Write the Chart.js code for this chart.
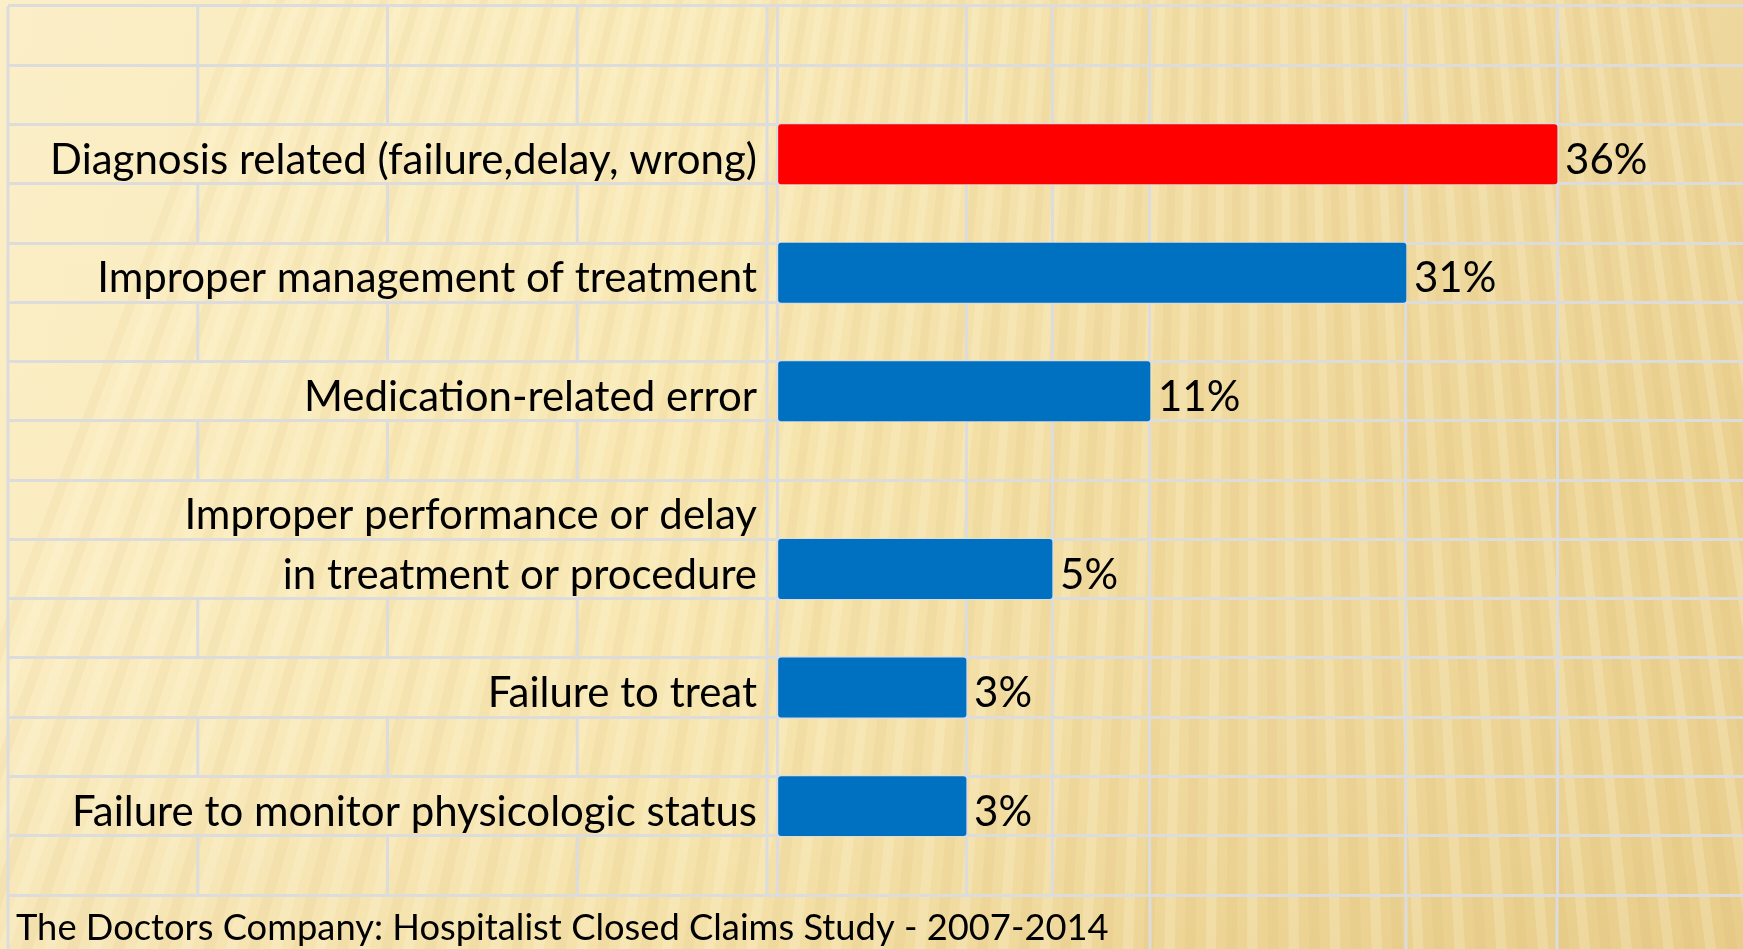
<!DOCTYPE html>
<html>
<head>
<meta charset="utf-8">
<title>Hospitalist Closed Claims</title>
<script src="https://cdn.jsdelivr.net/npm/chart.js@4.4.1/dist/chart.umd.min.js"></script>
<style>
  html, body { margin: 0; padding: 0; background: #f4e0a6; }
  #wrap { width: 1743px; height: 949px; }
</style>
</head>
<body>
<div id="wrap"><canvas id="claims-chart" width="1743" height="949"></canvas></div>
<script>
// ---- data ----
const categories = [
  "Diagnosis related (failure,delay, wrong)",
  "Improper management of treatment",
  "Medication-related error",
  ["Improper performance or delay", "in treatment or procedure"],
  "Failure to treat",
  "Failure to monitor physicologic status",
];
const shares = [36, 31, 11, 5, 3, 3];
const barColors = ["#ff0000", "#0070c0", "#0070c0", "#0070c0", "#0070c0", "#0070c0"];
const footnote = "The Doctors Company: Hospitalist Closed Claims Study - 2007-2014";

// ---- look ----
const FONT = "Lato, Calibri, 'Open Sans', sans-serif";
const GRID = "#dcdcdc";
const LABEL_SIZE = 42;
const NOTE_SIZE = 36.3;
// the source is a table: column edges (fraction of plot width) at each distinct value
const columnEdges = [0, 0.1957, 0.2847, 0.3861, 0.6511, 0.8075];

// one table row per label line, bar sits on the last line, blank row after each item
const rowLabels = ["", ""];
const rowValues = [null, null];
const rowColors = ["#0070c0", "#0070c0"];
categories.forEach((label, i) => {
  const lines = Array.isArray(label) ? label : [label];
  lines.forEach((line, j) => {
    rowLabels.push(line);
    rowValues.push(j === lines.length - 1 ? shares[i] : null);
    rowColors.push(barColors[i]);
  });
  rowLabels.push("");
  rowValues.push(null);
  rowColors.push("#0070c0");
});

const stops = [0, ...Array.from(new Set(shares)).sort((a, b) => a - b)];

// x scale that maps values onto the table's column edges
class TableColumnScale extends Chart.LinearScale {
  buildTicks() {
    return this.options.stops.map((value) => ({ value }));
  }
  getPixelForValue(value) {
    const { stops, edges } = this.options;
    let i = 1;
    while (i < stops.length - 1 && value > stops[i]) i++;
    const t = (value - stops[i - 1]) / (stops[i] - stops[i - 1]);
    return this.left + (edges[i - 1] + t * (edges[i] - edges[i - 1])) * this.width;
  }
  getValueForPixel(pixel) {
    const { stops, edges } = this.options;
    const f = (pixel - this.left) / this.width;
    let i = 1;
    while (i < edges.length - 1 && f > edges[i]) i++;
    const t = (f - edges[i - 1]) / (edges[i] - edges[i - 1]);
    return stops[i - 1] + t * (stops[i] - stops[i - 1]);
  }
}
TableColumnScale.id = "tableColumns";
TableColumnScale.defaults = {};
Chart.register(TableColumnScale);

// golden striped slide background
const backgroundPlugin = {
  id: "slideBackground",
  beforeDraw(chart) {
    const { ctx, width: w, height: h } = chart;
    ctx.save();
    const g = ctx.createLinearGradient(0, 0, w, 0);
    g.addColorStop(0, "#fbedc2");
    g.addColorStop(0.4, "#f8e7b1");
    g.addColorStop(0.7, "#f0d99c");
    g.addColorStop(1, "#ebd190");
    ctx.fillStyle = g;
    ctx.fillRect(0, 0, w, h);
    const shade = ctx.createLinearGradient(0, 0, 0, h);
    shade.addColorStop(0, "rgba(255,250,230,0.15)");
    shade.addColorStop(0.5, "rgba(255,255,255,0)");
    shade.addColorStop(1, "rgba(205,165,80,0.10)");
    ctx.fillStyle = shade;
    ctx.fillRect(0, 0, w, h);

    // fan of soft stripes converging above the slide
    const fx = w * 0.72, fy = -h * 2.8;
    const R = h * 6;
    const a0 = Math.atan2(-120 - fx, h - fy);
    const a1 = Math.atan2(w + 120 - fx, h - fy);
    const step = 18 / (h * 0.5 - fy);
    let k = 0;
    for (let a = a0; a < a1; a += step, k++) {
      ctx.beginPath();
      ctx.moveTo(fx, fy);
      ctx.lineTo(fx + R * Math.sin(a), fy + R * Math.cos(a));
      ctx.lineTo(fx + R * Math.sin(a + step * 0.5), fy + R * Math.cos(a + step * 0.5));
      ctx.closePath();
      ctx.fillStyle = k % 2 ? "rgba(255,250,225,0.22)" : "rgba(200,160,70,0.07)";
      ctx.fill();
    }
    ctx.restore();
  },
};

// table lines the scales do not draw: label column dividers and footer row
const tablePlugin = {
  id: "tableLines",
  beforeDatasetsDraw(chart) {
    const { ctx, chartArea, scales } = chart;
    const y = scales.y;
    const x = scales.x;
    const colLeft = 8;
    const colRight = chartArea.left - 10;
    ctx.save();
    ctx.strokeStyle = GRID;
    ctx.lineWidth = 3;
    ctx.beginPath();
    ctx.moveTo(colLeft, chartArea.top);
    ctx.lineTo(colLeft, chart.height);
    ctx.moveTo(colRight, chartArea.top);
    ctx.lineTo(colRight, chartArea.bottom);
    const rowH = (chartArea.bottom - chartArea.top) / rowLabels.length;
    rowLabels.forEach((label, r) => {
      if (label) return;
      const yc = y.getPixelForTick(r);
      for (let c = 1; c < 4; c++) {
        const xc = colLeft + ((colRight - colLeft) * c) / 4;
        ctx.moveTo(xc, yc - rowH / 2);
        ctx.lineTo(xc, yc + rowH / 2);
      }
    });
    // column lines that continue past the footnote cell
    ctx.font = `${NOTE_SIZE}px ${FONT}`;
    const noteEnd = 16 + ctx.measureText(footnote).width;
    x.ticks.forEach((t, i) => {
      const px = x.getPixelForTick(i);
      if (px > noteEnd) {
        ctx.moveTo(px, chartArea.bottom);
        ctx.lineTo(px, chart.height);
      }
    });
    ctx.stroke();
    ctx.restore();
  },
};

// percentage labels at the bar ends
const valueLabelPlugin = {
  id: "valueLabels",
  afterDatasetsDraw(chart) {
    const { ctx } = chart;
    const meta = chart.getDatasetMeta(0);
    ctx.save();
    ctx.font = `${LABEL_SIZE}px ${FONT}`;
    ctx.fillStyle = "#000";
    ctx.textAlign = "left";
    ctx.textBaseline = "middle";
    meta.data.forEach((bar, i) => {
      const v = rowValues[i];
      if (v == null) return;
      ctx.fillText(`${v}%`, bar.x + 8, bar.y + 6);
    });
    ctx.restore();
  },
};

const ctx = document.getElementById("claims-chart").getContext("2d");
const chart = new Chart(ctx, {
  type: "bar",
  data: {
    labels: rowLabels,
    datasets: [
      {
        data: rowValues,
        backgroundColor: rowColors,
        categoryPercentage: 1,
        barPercentage: 1,
        borderRadius: 3,
        borderSkipped: false,
      },
    ],
  },
  options: {
    indexAxis: "y",
    responsive: false,
    animation: false,
    layout: { padding: { left: 16, top: 6, right: 0, bottom: 0 } },
    plugins: {
      legend: { display: false },
      tooltip: { enabled: false },
      title: {
        display: true,
        position: "bottom",
        align: "start",
        text: footnote,
        color: "#000",
        font: { family: FONT, size: NOTE_SIZE, weight: "normal", lineHeight: 1.0 },
        padding: { top: 15, bottom: 2.7 },
      },
    },
    scales: {
      x: {
        type: "tableColumns",
        stops: stops,
        edges: columnEdges,
        min: 0,
        max: 36,
        ticks: { display: false },
        border: { display: false },
        grid: { color: GRID, lineWidth: 3, drawTicks: false },
      },
      y: {
        type: "category",
        offset: true,
        border: { display: false },
        grid: { offset: true, color: GRID, lineWidth: 3, tickLength: 769 },
        ticks: {
          autoSkip: false,
          color: "#000",
          padding: -749,
          labelOffset: 6,
          font: { family: FONT, size: LABEL_SIZE },
        },
        afterFit(scale) {
          scale.width = 761;
        },
      },
    },
  },
  plugins: [backgroundPlugin, tablePlugin, valueLabelPlugin],
});
</script>
</body>
</html>
